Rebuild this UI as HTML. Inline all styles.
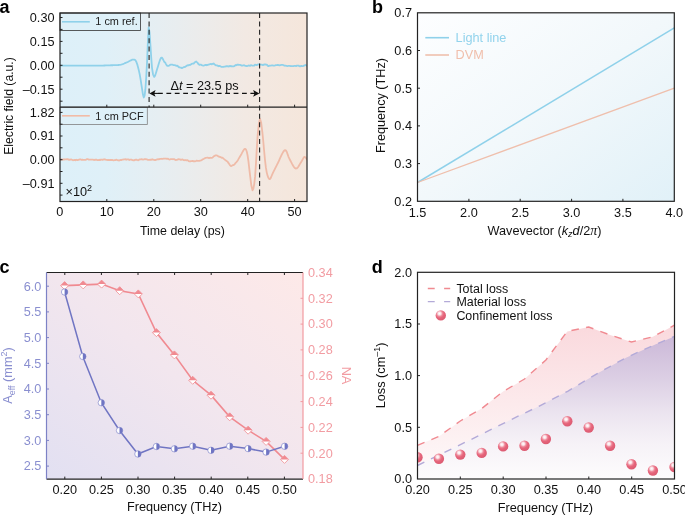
<!DOCTYPE html>
<html><head><meta charset="utf-8"><style>
html,body{margin:0;padding:0;background:#fff;width:685px;height:515px;overflow:hidden;}
svg{display:block;will-change:transform;}
</style></head><body>
<svg width="685" height="515" viewBox="0 0 685 515">
<rect width="685" height="515" fill="#fff"/>
<defs>
<linearGradient id="ga" x1="0" y1="0" x2="1" y2="0"><stop offset="0" stop-color="#ddf0f9"/><stop offset="0.18" stop-color="#dff0f8"/><stop offset="0.4" stop-color="#e6eef2"/><stop offset="0.55" stop-color="#ebecec"/><stop offset="0.75" stop-color="#f2e9e3"/><stop offset="1" stop-color="#f5e6db"/></linearGradient>
<linearGradient id="gb" x1="0" y1="0" x2="1" y2="1"><stop offset="0" stop-color="#fdfeff"/><stop offset="0.5" stop-color="#f2f8fb"/><stop offset="1" stop-color="#e1f1f8"/></linearGradient>
<linearGradient id="gc" x1="0" y1="1" x2="1" y2="0"><stop offset="0" stop-color="#e2e0f2"/><stop offset="0.5" stop-color="#f2e6ee"/><stop offset="1" stop-color="#fde9e8"/></linearGradient>
<linearGradient id="gdp" gradientUnits="userSpaceOnUse" x1="0" y1="325" x2="0" y2="479"><stop offset="0" stop-color="#fad9dd"/><stop offset="1" stop-color="#fefafa"/></linearGradient>
<linearGradient id="gdm" gradientUnits="userSpaceOnUse" x1="0" y1="336" x2="0" y2="479"><stop offset="0" stop-color="#cbb8d8"/><stop offset="0.3" stop-color="#dccfe4"/><stop offset="0.55" stop-color="#ece5f0"/><stop offset="0.75" stop-color="#f6f2f7"/><stop offset="1" stop-color="#fdfcfd"/></linearGradient>
<radialGradient id="sph" cx="0.38" cy="0.32" r="0.7"><stop offset="0" stop-color="#ffffff"/><stop offset="0.2" stop-color="#fbe3e7"/><stop offset="0.4" stop-color="#ee8a9b"/><stop offset="0.6" stop-color="#e6657b"/><stop offset="1" stop-color="#db5a71"/></radialGradient>
<clipPath id="cpa"><rect x="60" y="13" width="247" height="188.5"/></clipPath>
<clipPath id="cpd"><rect x="417.5" y="272.3" width="257" height="206.7"/></clipPath>
</defs>
<rect x="60.0" y="13.0" width="247.0" height="188.5" fill="url(#ga)"/>
<g clip-path="url(#cpa)" fill="none" stroke-linejoin="round" stroke-linecap="round">
<path d="M60.00,65.60 L60.43,65.60 L60.92,65.61 L61.47,65.61 L62.07,65.61 L62.72,65.62 L63.41,65.62 L64.15,65.63 L64.92,65.63 L65.73,65.64 L66.56,65.64 L67.42,65.65 L68.30,65.65 L69.20,65.66 L70.12,65.66 L71.04,65.67 L71.97,65.67 L72.90,65.68 L73.84,65.68 L74.76,65.69 L75.68,65.69 L76.58,65.69 L77.47,65.70 L78.34,65.70 L79.18,65.70 L80.00,65.70 L80.81,65.70 L81.63,65.70 L82.46,65.70 L83.31,65.70 L84.16,65.70 L85.02,65.69 L85.88,65.69 L86.75,65.69 L87.61,65.69 L88.48,65.68 L89.34,65.68 L90.20,65.68 L91.05,65.67 L91.89,65.67 L92.72,65.66 L93.54,65.66 L94.34,65.65 L95.13,65.65 L95.89,65.64 L96.64,65.64 L97.36,65.63 L98.06,65.62 L98.74,65.62 L99.38,65.61 L100.00,65.60 L101.18,65.58 L102.25,65.56 L103.21,65.54 L104.08,65.52 L104.88,65.50 L105.63,65.47 L106.35,65.45 L107.04,65.42 L107.74,65.39 L108.45,65.36 L109.20,65.33 L110.00,65.30 L110.84,65.27 L111.69,65.25 L112.56,65.23 L113.43,65.21 L114.30,65.20 L115.16,65.17 L116.01,65.15 L116.85,65.11 L117.66,65.06 L118.44,64.99 L119.19,64.91 L119.90,64.80 L120.88,64.60 L121.78,64.37 L122.62,64.10 L123.41,63.80 L124.17,63.49 L124.93,63.16 L125.70,62.83 L126.50,62.50 L127.35,62.13 L128.23,61.69 L129.12,61.22 L130.01,60.76 L130.87,60.33 L131.68,59.97 L132.43,59.71 L133.10,59.60 L134.16,59.59 L134.96,59.84 L135.65,60.57 L136.40,62.00 L137.25,64.34 L138.11,67.43 L138.94,70.90 L139.70,74.40 L140.59,79.40 L141.39,84.66 L142.10,89.20 L143.00,94.79 L143.80,97.50 L144.60,95.62 L145.40,89.20 L146.25,76.79 L147.10,61.20 L147.90,41.47 L148.70,27.40 L149.55,32.49 L150.40,44.70 L151.17,56.76 L152.00,67.80 L153.02,74.26 L154.20,76.90 L155.08,75.70 L156.03,72.66 L157.00,69.40 L158.03,66.15 L159.07,62.69 L160.00,60.00 L160.98,57.94 L161.90,57.60 L162.66,58.59 L163.49,60.33 L164.40,62.00 L165.17,62.51 L166.01,64.08 L166.86,65.57 L167.70,65.76 L168.45,65.80 L169.16,65.59 L169.94,64.96 L170.90,64.68 L171.68,64.63 L172.56,64.72 L173.51,65.09 L174.48,65.10 L175.46,65.30 L176.40,65.93 L177.30,65.75 L178.19,66.47 L179.08,67.28 L179.99,67.48 L180.92,67.57 L181.90,68.12 L182.69,67.70 L183.53,67.23 L184.40,67.01 L185.28,66.93 L186.15,66.08 L186.99,65.64 L187.78,65.25 L188.50,65.42 L189.52,64.90 L190.43,64.90 L191.26,64.09 L192.04,63.68 L192.80,63.62 L193.70,63.49 L194.51,62.70 L195.30,61.93 L196.10,61.53 L196.85,62.14 L197.54,62.67 L198.34,63.96 L199.40,64.87 L200.07,64.59 L200.82,64.59 L201.63,65.17 L202.49,65.36 L203.38,65.65 L204.27,65.37 L205.15,64.99 L206.00,64.92 L206.83,65.30 L207.68,64.88 L208.53,64.60 L209.38,64.40 L210.21,64.19 L211.03,63.99 L211.83,64.36 L212.60,63.83 L213.56,63.48 L214.44,64.35 L215.30,64.91 L216.16,65.47 L217.04,65.37 L218.00,65.93 L218.76,66.27 L219.54,65.89 L220.34,66.32 L221.16,66.76 L221.99,66.93 L222.84,66.95 L223.71,66.76 L224.60,66.71 L225.41,66.52 L226.26,66.20 L227.13,66.46 L228.01,66.23 L228.90,66.54 L229.78,65.86 L230.65,66.27 L231.49,66.22 L232.30,66.38 L233.15,66.38 L233.96,66.31 L234.72,65.88 L235.48,65.02 L236.25,65.23 L237.04,64.74 L237.89,64.59 L238.80,64.88 L239.60,64.94 L240.45,64.91 L241.34,65.49 L242.26,65.54 L243.19,65.37 L244.13,65.25 L245.05,65.84 L245.94,65.81 L246.80,66.11 L247.60,65.84 L248.52,65.49 L249.36,65.56 L250.14,65.80 L250.91,65.22 L251.67,65.44 L252.45,65.62 L253.29,65.57 L254.20,65.54 L254.99,64.73 L255.84,64.88 L256.72,65.19 L257.63,64.56 L258.55,64.43 L259.47,64.37 L260.38,64.60 L261.26,64.64 L262.11,64.73 L262.90,65.10 L263.80,64.60 L264.60,64.44 L265.34,64.51 L266.06,64.61 L266.80,64.67 L267.60,65.65 L268.48,66.10 L269.50,65.58 L270.20,65.69 L270.94,65.54 L271.72,65.44 L272.53,65.39 L273.37,65.62 L274.24,65.66 L275.12,65.43 L276.00,65.11 L276.90,65.04 L277.79,64.79 L278.67,65.06 L279.55,65.37 L280.40,65.22 L281.25,64.86 L282.11,64.78 L282.98,64.96 L283.85,65.32 L284.73,65.73 L285.60,65.59 L286.47,65.96 L287.33,66.03 L288.18,65.90 L289.02,65.80 L289.83,65.88 L290.63,66.15 L291.40,66.02 L292.38,66.22 L293.34,66.09 L294.28,65.80 L295.20,65.92 L296.09,66.12 L296.96,65.60 L297.80,65.65 L298.60,65.66 L299.37,66.09 L300.10,66.37 L301.25,65.92 L302.32,66.13 L303.31,66.09 L304.19,65.50 L304.96,65.35 L305.60,64.93 L306.64,65.48 L307.00,65.72" stroke="#8fd1ea" stroke-width="1.8"/>
<path d="M60.00,159.64 L60.43,159.40 L60.92,159.72 L61.47,159.38 L62.07,159.61 L62.72,159.58 L63.41,159.30 L64.15,159.55 L64.92,159.26 L65.73,159.47 L66.56,159.25 L67.42,159.16 L68.30,159.41 L69.20,159.91 L70.12,159.56 L71.04,159.46 L71.97,159.77 L72.90,160.23 L73.84,160.15 L74.76,159.94 L75.68,160.35 L76.58,159.74 L77.47,160.14 L78.34,159.84 L79.18,159.55 L80.00,159.36 L80.80,159.43 L81.60,159.92 L82.40,159.61 L83.20,159.80 L84.00,159.96 L84.80,159.79 L85.60,159.86 L86.40,159.45 L87.20,159.22 L88.00,159.22 L88.80,159.64 L89.60,159.64 L90.40,159.53 L91.20,159.71 L92.00,159.69 L92.80,159.53 L93.60,159.89 L94.40,159.99 L95.20,159.64 L96.00,159.74 L96.80,159.75 L97.60,160.06 L98.40,160.11 L99.20,159.73 L100.00,160.15 L100.80,159.60 L101.60,159.58 L102.40,159.87 L103.20,159.49 L104.00,159.59 L104.80,159.24 L105.60,159.62 L106.40,159.92 L107.20,159.92 L108.00,160.20 L108.80,159.85 L109.60,160.01 L110.40,160.01 L111.20,160.00 L112.00,159.89 L112.80,160.18 L113.60,160.44 L114.40,160.16 L115.20,160.18 L116.00,159.66 L116.80,159.94 L117.60,160.06 L118.40,160.43 L119.20,160.48 L120.00,160.03 L120.80,159.87 L121.59,160.03 L122.37,159.54 L123.15,159.66 L123.93,159.46 L124.71,159.30 L125.48,159.16 L126.25,159.72 L127.03,159.44 L127.80,159.40 L128.57,159.50 L129.35,159.98 L130.13,159.53 L130.91,159.61 L131.70,159.74 L132.49,160.10 L133.29,160.24 L134.10,160.35 L134.91,159.88 L135.73,159.74 L136.56,159.61 L137.40,160.00 L138.26,160.28 L139.12,159.70 L140.00,159.41 L140.74,159.29 L141.51,159.22 L142.28,159.40 L143.07,159.59 L143.87,159.40 L144.68,159.05 L145.50,159.23 L146.33,159.27 L147.17,159.47 L148.01,159.92 L148.85,159.92 L149.70,159.76 L150.56,159.76 L151.41,159.80 L152.26,159.26 L153.11,159.72 L153.96,159.85 L154.81,160.01 L155.65,160.02 L156.48,159.66 L157.31,159.46 L158.12,159.08 L158.93,159.35 L159.73,158.98 L160.51,158.78 L161.28,158.79 L162.04,158.76 L162.78,158.90 L163.50,158.72 L164.20,158.58 L165.18,158.64 L166.14,158.63 L167.09,158.87 L168.01,158.70 L168.92,159.38 L169.81,159.53 L170.69,159.20 L171.55,159.12 L172.40,159.17 L173.23,159.23 L174.04,159.05 L174.85,159.62 L175.64,160.08 L176.42,159.87 L177.19,159.78 L177.95,159.40 L178.70,159.21 L179.44,159.35 L180.17,159.37 L180.89,159.91 L181.60,159.62 L182.58,159.39 L183.52,160.15 L184.44,160.24 L185.33,160.01 L186.20,160.29 L187.04,160.05 L187.86,160.42 L188.67,161.08 L189.46,161.39 L190.24,161.45 L191.00,161.12 L191.76,161.05 L192.51,160.84 L193.26,161.26 L194.00,161.26 L194.92,161.41 L195.84,161.02 L196.74,160.61 L197.63,160.81 L198.49,160.96 L199.34,160.81 L200.17,160.58 L200.97,160.35 L201.75,160.05 L202.50,159.33 L203.22,159.12 L203.90,158.80 L204.97,158.19 L205.91,157.78 L206.75,157.72 L207.55,157.61 L208.33,157.86 L209.14,158.15 L210.00,157.74 L210.80,157.84 L211.62,157.79 L212.44,157.58 L213.28,156.79 L214.11,156.12 L214.95,155.68 L215.78,155.40 L216.60,155.30 L217.43,155.72 L218.28,156.33 L219.14,156.76 L219.99,156.85 L220.82,157.23 L221.62,157.76 L222.39,157.58 L223.10,158.16 L224.13,159.12 L225.05,159.87 L225.91,160.59 L226.71,161.10 L227.50,161.45 L228.40,162.91 L229.20,163.96 L230.03,165.34 L231.00,166.16 L231.78,165.74 L232.64,165.23 L233.54,165.10 L234.46,164.44 L235.36,163.23 L236.20,162.40 L237.13,161.25 L238.02,159.90 L238.88,158.42 L239.73,156.93 L240.60,155.50 L241.51,153.93 L242.45,152.16 L243.37,150.51 L244.24,149.28 L245.00,148.80 L246.00,149.51 L246.80,151.72 L247.60,155.50 L248.48,161.67 L249.36,169.42 L250.20,176.40 L251.35,185.58 L252.50,190.40 L253.35,188.78 L254.23,184.04 L255.10,176.40 L255.94,164.10 L256.78,148.89 L257.60,136.20 L258.81,124.06 L260.00,118.70 L261.13,122.42 L262.40,132.70 L263.20,140.53 L264.08,150.36 L265.00,160.12 L265.90,167.70 L266.77,172.62 L267.65,175.97 L268.52,178.04 L269.40,179.10 L270.25,178.85 L271.09,177.26 L271.96,175.04 L272.90,172.90 L273.67,171.40 L274.45,169.85 L275.27,168.18 L276.21,166.32 L277.30,164.20 L278.01,162.75 L278.81,161.01 L279.67,159.08 L280.57,157.09 L281.49,155.15 L282.39,153.37 L283.26,151.88 L284.07,150.78 L284.80,150.20 L285.90,150.49 L286.81,152.04 L287.65,154.33 L288.51,156.82 L289.50,159.00 L290.32,160.47 L291.19,162.15 L292.10,163.89 L293.03,165.55 L293.96,166.99 L294.85,168.05 L295.70,168.60 L296.64,168.47 L297.57,167.68 L298.47,166.44 L299.33,165.00 L300.14,163.58 L300.90,162.40 L301.92,160.79 L302.81,159.10 L303.63,157.69 L304.40,156.90 L305.43,157.26 L306.36,158.53 L307.00,159.50" stroke="#efbba8" stroke-width="1.8"/>
</g>
<g stroke="#222" stroke-width="1.1" stroke-dasharray="5,3.4">
<line x1="149.1" y1="13" x2="149.1" y2="107.2"/>
<line x1="259.6" y1="13" x2="259.6" y2="201.5"/>
</g>
<line x1="153" y1="93.4" x2="255" y2="93.4" stroke="#111" stroke-width="1.1" stroke-dasharray="4.8,3.6" stroke-dashoffset="-5"/>
<path d="M149.4,93.4 L155.6,90.1 L154.2,93.4 L155.6,96.7 Z" fill="#111"/><line x1="153" y1="93.4" x2="158" y2="93.4" stroke="#111" stroke-width="1.1"/>
<path d="M259.4,93.4 L253.1,90.1 L254.5,93.4 L253.1,96.7 Z" fill="#111"/>
<text x="170.5" y="89.6" font-size="12.7" font-family='"Liberation Sans", sans-serif' fill="#111">&#916;<tspan font-style="italic">t</tspan> = 23.5 ps</text>
<rect x="60" y="13" width="80.5" height="17.4" fill="#def0f8" stroke="#333" stroke-width="0.8"/>
<line x1="62" y1="21.8" x2="89.8" y2="21.8" stroke="#8fd1ea" stroke-width="1.6"/>
<text x="95.3" y="25" font-size="10.9" font-family='"Liberation Sans", sans-serif' fill="#222">1 cm ref.</text>
<rect x="60" y="107.2" width="87.3" height="17.3" fill="#def0f8" stroke="#808080" stroke-width="0.8"/>
<line x1="62" y1="115.8" x2="89.8" y2="115.8" stroke="#f2bba6" stroke-width="1.6"/>
<text x="95.2" y="119.7" font-size="10.9" font-family='"Liberation Sans", sans-serif' fill="#222">1 cm PCF</text>
<rect x="60" y="13" width="247" height="188.5" fill="none" stroke="#222" stroke-width="1.2"/>
<line x1="60" y1="107.2" x2="307" y2="107.2" stroke="#222" stroke-width="1.2"/>
<path d="M106.8,201.5 v-2.5 M106.8,107.2 v-2.5 M153.8,201.5 v-2.5 M153.8,107.2 v-2.5 M200.7,201.5 v-2.5 M200.7,107.2 v-2.5 M247.7,201.5 v-2.5 M247.7,107.2 v-2.5 M294.6,201.5 v-2.5 M294.6,107.2 v-2.5 M60,17.5 h2.5 M60,29.4 h2.5 M60,41.4 h2.5 M60,53.3 h2.5 M60,65.3 h2.5 M60,77.2 h2.5 M60,89.2 h2.5 M60,101.2 h2.5 M60,112.4 h2.5 M60,124.2 h2.5 M60,136.0 h2.5 M60,147.8 h2.5 M60,159.7 h2.5 M60,171.5 h2.5 M60,183.3 h2.5 M60,195.1 h2.5" stroke="#222" stroke-width="1"/>
<text x="54.5" y="21.8" font-size="12.7" text-anchor="end" font-family='"Liberation Sans", sans-serif' fill="#111" >0.30</text>
<text x="54.5" y="45.7" font-size="12.7" text-anchor="end" font-family='"Liberation Sans", sans-serif' fill="#111" >0.15</text>
<text x="54.5" y="69.6" font-size="12.7" text-anchor="end" font-family='"Liberation Sans", sans-serif' fill="#111" >0.00</text>
<text x="54.5" y="93.5" font-size="12.7" text-anchor="end" font-family='"Liberation Sans", sans-serif' fill="#111" >&#8211;0.15</text>
<text x="54.5" y="116.7" font-size="12.7" text-anchor="end" font-family='"Liberation Sans", sans-serif' fill="#111" >1.82</text>
<text x="54.5" y="140.3" font-size="12.7" text-anchor="end" font-family='"Liberation Sans", sans-serif' fill="#111" >0.91</text>
<text x="54.5" y="164.0" font-size="12.7" text-anchor="end" font-family='"Liberation Sans", sans-serif' fill="#111" >0.00</text>
<text x="54.5" y="187.6" font-size="12.7" text-anchor="end" font-family='"Liberation Sans", sans-serif' fill="#111" >&#8211;0.91</text>
<text x="59.9" y="216.3" font-size="12.7" text-anchor="middle" font-family='"Liberation Sans", sans-serif' fill="#111" >0</text>
<text x="106.8" y="216.3" font-size="12.7" text-anchor="middle" font-family='"Liberation Sans", sans-serif' fill="#111" >10</text>
<text x="153.8" y="216.3" font-size="12.7" text-anchor="middle" font-family='"Liberation Sans", sans-serif' fill="#111" >20</text>
<text x="200.7" y="216.3" font-size="12.7" text-anchor="middle" font-family='"Liberation Sans", sans-serif' fill="#111" >30</text>
<text x="247.7" y="216.3" font-size="12.7" text-anchor="middle" font-family='"Liberation Sans", sans-serif' fill="#111" >40</text>
<text x="294.6" y="216.3" font-size="12.7" text-anchor="middle" font-family='"Liberation Sans", sans-serif' fill="#111" >50</text>
<text x="182.4" y="234.6" font-size="12.4" text-anchor="middle" font-family='"Liberation Sans", sans-serif' fill="#111" >Time delay (ps)</text>
<text x="12.6" y="106.0" font-size="12.2" text-anchor="middle" font-family='"Liberation Sans", sans-serif' fill="#111" transform="rotate(-90 12.6 106)">Electric field (a.u.)</text>
<text x="65.5" y="196" font-size="12.7" font-family='"Liberation Sans", sans-serif' fill="#111">&#215;10<tspan font-size="9" dy="-5.5">2</tspan></text>
<text x="-0.5" y="13.2" font-size="18" font-weight="bold" font-family='"Liberation Sans", sans-serif' fill="#000">a</text>
<rect x="417.5" y="12.8" width="256.8" height="188.5" fill="url(#gb)"/>
<line x1="417.5" y1="182.5" x2="674.3" y2="27.9" stroke="#8fd1ea" stroke-width="1.5"/>
<line x1="417.5" y1="182.5" x2="674.3" y2="88.2" stroke="#efbfac" stroke-width="1.3"/>
<line x1="425.3" y1="37.7" x2="449" y2="37.7" stroke="#8fd1ea" stroke-width="1.6"/>
<line x1="425.3" y1="55" x2="449" y2="55" stroke="#efbfac" stroke-width="1.6"/>
<text x="455.6" y="42.0" font-size="12.7" text-anchor="start" font-family='"Liberation Sans", sans-serif' fill="#92d3ec" >Light line</text>
<text x="455.6" y="59.3" font-size="12.7" text-anchor="start" font-family='"Liberation Sans", sans-serif' fill="#f0bfac" >DVM</text>
<rect x="417.5" y="12.8" width="256.8" height="188.5" fill="none" stroke="#222" stroke-width="1.2"/>
<path d="M468.9,201.3 v-2.5 M520.2,201.3 v-2.5 M571.6,201.3 v-2.5 M622.9,201.3 v-2.5 M417.5,163.6 h2.5 M417.5,125.9 h2.5 M417.5,88.2 h2.5 M417.5,50.5 h2.5" stroke="#222" stroke-width="1"/>
<text x="412.0" y="205.6" font-size="12.7" text-anchor="end" font-family='"Liberation Sans", sans-serif' fill="#111" >0.2</text>
<text x="412.0" y="167.9" font-size="12.7" text-anchor="end" font-family='"Liberation Sans", sans-serif' fill="#111" >0.3</text>
<text x="412.0" y="130.2" font-size="12.7" text-anchor="end" font-family='"Liberation Sans", sans-serif' fill="#111" >0.4</text>
<text x="412.0" y="92.5" font-size="12.7" text-anchor="end" font-family='"Liberation Sans", sans-serif' fill="#111" >0.5</text>
<text x="412.0" y="54.8" font-size="12.7" text-anchor="end" font-family='"Liberation Sans", sans-serif' fill="#111" >0.6</text>
<text x="412.0" y="17.1" font-size="12.7" text-anchor="end" font-family='"Liberation Sans", sans-serif' fill="#111" >0.7</text>
<text x="417.5" y="216.6" font-size="12.7" text-anchor="middle" font-family='"Liberation Sans", sans-serif' fill="#111" >1.5</text>
<text x="468.9" y="216.6" font-size="12.7" text-anchor="middle" font-family='"Liberation Sans", sans-serif' fill="#111" >2.0</text>
<text x="520.2" y="216.6" font-size="12.7" text-anchor="middle" font-family='"Liberation Sans", sans-serif' fill="#111" >2.5</text>
<text x="571.6" y="216.6" font-size="12.7" text-anchor="middle" font-family='"Liberation Sans", sans-serif' fill="#111" >3.0</text>
<text x="622.9" y="216.6" font-size="12.7" text-anchor="middle" font-family='"Liberation Sans", sans-serif' fill="#111" >3.5</text>
<text x="674.3" y="216.6" font-size="12.7" text-anchor="middle" font-family='"Liberation Sans", sans-serif' fill="#111" >4.0</text>
<text x="544.5" y="234.7" font-size="12.7" text-anchor="middle" font-family='"Liberation Sans", sans-serif' fill="#111">Wavevector (<tspan font-style="italic">k</tspan><tspan font-style="italic" font-size="9" dy="2.5">z</tspan><tspan font-style="italic" dy="-2.5">d</tspan>/2<tspan font-family="Liberation Serif" font-style="italic" font-size="14">&#960;</tspan>)</text>
<text x="385.0" y="105.5" font-size="12.7" text-anchor="middle" font-family='"Liberation Sans", sans-serif' fill="#111" transform="rotate(-90 385 105.5)">Frequency (THz)</text>
<text x="372" y="13.2" font-size="18" font-weight="bold" font-family='"Liberation Sans", sans-serif' fill="#000">b</text>
<rect x="46.5" y="272.5" width="256.5" height="206.6" fill="url(#gc)"/>
<path d="M64.60,285.60 L83.20,284.90 L101.60,284.10 L119.70,290.70 L138.30,293.90 L156.40,332.60 L174.40,354.90 L192.70,380.30 L211.00,395.20 L229.70,416.80 L248.10,430.20 L266.10,441.40 L284.50,459.40" fill="none" stroke="#f08a91" stroke-width="1.6"/>
<path d="M64.60,292.00 L82.80,356.50 L101.30,402.70 L119.50,430.50 L137.90,454.00 L156.40,446.50 L174.40,448.80 L192.70,446.20 L211.00,450.30 L229.70,446.20 L248.10,448.60 L266.10,452.10 L284.60,446.30" fill="none" stroke="#7075c3" stroke-width="1.5"/>
<path d="M64.6,281.6 L68.6,285.6 L64.6,289.6 L60.6,285.6 Z" fill="#fff" stroke="#f08a91" stroke-width="0.8"/>
<path d="M64.6,281.6 L68.6,285.6 L60.6,285.6 Z" fill="#f08a91"/>
<path d="M83.2,280.9 L87.2,284.9 L83.2,288.9 L79.2,284.9 Z" fill="#fff" stroke="#f08a91" stroke-width="0.8"/>
<path d="M83.2,280.9 L87.2,284.9 L79.2,284.9 Z" fill="#f08a91"/>
<path d="M101.6,280.1 L105.6,284.1 L101.6,288.1 L97.6,284.1 Z" fill="#fff" stroke="#f08a91" stroke-width="0.8"/>
<path d="M101.6,280.1 L105.6,284.1 L97.6,284.1 Z" fill="#f08a91"/>
<path d="M119.7,286.7 L123.7,290.7 L119.7,294.7 L115.7,290.7 Z" fill="#fff" stroke="#f08a91" stroke-width="0.8"/>
<path d="M119.7,286.7 L123.7,290.7 L115.7,290.7 Z" fill="#f08a91"/>
<path d="M138.3,289.9 L142.3,293.9 L138.3,297.9 L134.3,293.9 Z" fill="#fff" stroke="#f08a91" stroke-width="0.8"/>
<path d="M138.3,289.9 L142.3,293.9 L134.3,293.9 Z" fill="#f08a91"/>
<path d="M156.4,328.6 L160.4,332.6 L156.4,336.6 L152.4,332.6 Z" fill="#fff" stroke="#f08a91" stroke-width="0.8"/>
<path d="M156.4,328.6 L160.4,332.6 L152.4,332.6 Z" fill="#f08a91"/>
<path d="M174.4,350.9 L178.4,354.9 L174.4,358.9 L170.4,354.9 Z" fill="#fff" stroke="#f08a91" stroke-width="0.8"/>
<path d="M174.4,350.9 L178.4,354.9 L170.4,354.9 Z" fill="#f08a91"/>
<path d="M192.7,376.3 L196.7,380.3 L192.7,384.3 L188.7,380.3 Z" fill="#fff" stroke="#f08a91" stroke-width="0.8"/>
<path d="M192.7,376.3 L196.7,380.3 L188.7,380.3 Z" fill="#f08a91"/>
<path d="M211.0,391.2 L215.0,395.2 L211.0,399.2 L207.0,395.2 Z" fill="#fff" stroke="#f08a91" stroke-width="0.8"/>
<path d="M211.0,391.2 L215.0,395.2 L207.0,395.2 Z" fill="#f08a91"/>
<path d="M229.7,412.8 L233.7,416.8 L229.7,420.8 L225.7,416.8 Z" fill="#fff" stroke="#f08a91" stroke-width="0.8"/>
<path d="M229.7,412.8 L233.7,416.8 L225.7,416.8 Z" fill="#f08a91"/>
<path d="M248.1,426.2 L252.1,430.2 L248.1,434.2 L244.1,430.2 Z" fill="#fff" stroke="#f08a91" stroke-width="0.8"/>
<path d="M248.1,426.2 L252.1,430.2 L244.1,430.2 Z" fill="#f08a91"/>
<path d="M266.1,437.4 L270.1,441.4 L266.1,445.4 L262.1,441.4 Z" fill="#fff" stroke="#f08a91" stroke-width="0.8"/>
<path d="M266.1,437.4 L270.1,441.4 L262.1,441.4 Z" fill="#f08a91"/>
<path d="M284.5,455.4 L288.5,459.4 L284.5,463.4 L280.5,459.4 Z" fill="#fff" stroke="#f08a91" stroke-width="0.8"/>
<path d="M284.5,455.4 L288.5,459.4 L280.5,459.4 Z" fill="#f08a91"/>
<circle cx="64.6" cy="292.0" r="3.2" fill="#fff" stroke="#7075c3" stroke-width="0.6"/>
<path d="M64.6,288.8 A3.2,3.2 0 0 1 64.6,295.2 Z" fill="#7075c3"/>
<circle cx="82.8" cy="356.5" r="3.2" fill="#fff" stroke="#7075c3" stroke-width="0.6"/>
<path d="M82.8,353.3 A3.2,3.2 0 0 1 82.8,359.7 Z" fill="#7075c3"/>
<circle cx="101.3" cy="402.7" r="3.2" fill="#fff" stroke="#7075c3" stroke-width="0.6"/>
<path d="M101.3,399.5 A3.2,3.2 0 0 1 101.3,405.9 Z" fill="#7075c3"/>
<circle cx="119.5" cy="430.5" r="3.2" fill="#fff" stroke="#7075c3" stroke-width="0.6"/>
<path d="M119.5,427.3 A3.2,3.2 0 0 1 119.5,433.7 Z" fill="#7075c3"/>
<circle cx="137.9" cy="454.0" r="3.2" fill="#fff" stroke="#7075c3" stroke-width="0.6"/>
<path d="M137.9,450.8 A3.2,3.2 0 0 1 137.9,457.2 Z" fill="#7075c3"/>
<circle cx="156.4" cy="446.5" r="3.2" fill="#fff" stroke="#7075c3" stroke-width="0.6"/>
<path d="M156.4,443.3 A3.2,3.2 0 0 1 156.4,449.7 Z" fill="#7075c3"/>
<circle cx="174.4" cy="448.8" r="3.2" fill="#fff" stroke="#7075c3" stroke-width="0.6"/>
<path d="M174.4,445.6 A3.2,3.2 0 0 1 174.4,452.0 Z" fill="#7075c3"/>
<circle cx="192.7" cy="446.2" r="3.2" fill="#fff" stroke="#7075c3" stroke-width="0.6"/>
<path d="M192.7,443.0 A3.2,3.2 0 0 1 192.7,449.4 Z" fill="#7075c3"/>
<circle cx="211.0" cy="450.3" r="3.2" fill="#fff" stroke="#7075c3" stroke-width="0.6"/>
<path d="M211.0,447.1 A3.2,3.2 0 0 1 211.0,453.5 Z" fill="#7075c3"/>
<circle cx="229.7" cy="446.2" r="3.2" fill="#fff" stroke="#7075c3" stroke-width="0.6"/>
<path d="M229.7,443.0 A3.2,3.2 0 0 1 229.7,449.4 Z" fill="#7075c3"/>
<circle cx="248.1" cy="448.6" r="3.2" fill="#fff" stroke="#7075c3" stroke-width="0.6"/>
<path d="M248.1,445.4 A3.2,3.2 0 0 1 248.1,451.8 Z" fill="#7075c3"/>
<circle cx="266.1" cy="452.1" r="3.2" fill="#fff" stroke="#7075c3" stroke-width="0.6"/>
<path d="M266.1,448.9 A3.2,3.2 0 0 1 266.1,455.3 Z" fill="#7075c3"/>
<circle cx="284.6" cy="446.3" r="3.2" fill="#fff" stroke="#7075c3" stroke-width="0.6"/>
<path d="M284.6,443.1 A3.2,3.2 0 0 1 284.6,449.5 Z" fill="#7075c3"/>
<line x1="46.5" y1="272.5" x2="303.0" y2="272.5" stroke="#222" stroke-width="1.2"/>
<line x1="46.5" y1="479.1" x2="303.0" y2="479.1" stroke="#222" stroke-width="1.2"/>
<line x1="46.5" y1="272.5" x2="46.5" y2="479.1" stroke="#7d82c6" stroke-width="1.2"/>
<line x1="303.0" y1="272.5" x2="303.0" y2="479.1" stroke="#f29aa0" stroke-width="1.2"/>
<path d="M64.8,479.1 v-2.5 M64.8,272.5 v2.5 M101.4,479.1 v-2.5 M101.4,272.5 v2.5 M138.0,479.1 v-2.5 M138.0,272.5 v2.5 M174.6,479.1 v-2.5 M174.6,272.5 v2.5 M211.2,479.1 v-2.5 M211.2,272.5 v2.5 M247.8,479.1 v-2.5 M247.8,272.5 v2.5 M284.4,479.1 v-2.5 M284.4,272.5 v2.5" stroke="#222" stroke-width="1"/>
<path d="M46.5,466.1 h2.5 M46.5,440.4 h2.5 M46.5,414.7 h2.5 M46.5,389.0 h2.5 M46.5,363.3 h2.5 M46.5,337.6 h2.5 M46.5,311.9 h2.5 M46.5,286.2 h2.5" stroke="#7d82c6" stroke-width="1"/>
<path d="M303.0,453.2 h-2.5 M303.0,427.4 h-2.5 M303.0,401.6 h-2.5 M303.0,375.7 h-2.5 M303.0,349.9 h-2.5 M303.0,324.1 h-2.5 M303.0,298.3 h-2.5" stroke="#f29aa0" stroke-width="1"/>
<text x="41.3" y="470.4" font-size="12.7" text-anchor="end" font-family='"Liberation Sans", sans-serif' fill="#8a8fd0" >2.5</text>
<text x="41.3" y="444.7" font-size="12.7" text-anchor="end" font-family='"Liberation Sans", sans-serif' fill="#8a8fd0" >3.0</text>
<text x="41.3" y="419.0" font-size="12.7" text-anchor="end" font-family='"Liberation Sans", sans-serif' fill="#8a8fd0" >3.5</text>
<text x="41.3" y="393.3" font-size="12.7" text-anchor="end" font-family='"Liberation Sans", sans-serif' fill="#8a8fd0" >4.0</text>
<text x="41.3" y="367.6" font-size="12.7" text-anchor="end" font-family='"Liberation Sans", sans-serif' fill="#8a8fd0" >4.5</text>
<text x="41.3" y="341.9" font-size="12.7" text-anchor="end" font-family='"Liberation Sans", sans-serif' fill="#8a8fd0" >5.0</text>
<text x="41.3" y="316.2" font-size="12.7" text-anchor="end" font-family='"Liberation Sans", sans-serif' fill="#8a8fd0" >5.5</text>
<text x="41.3" y="290.5" font-size="12.7" text-anchor="end" font-family='"Liberation Sans", sans-serif' fill="#8a8fd0" >6.0</text>
<text x="308.0" y="483.3" font-size="12.7" text-anchor="start" font-family='"Liberation Sans", sans-serif' fill="#f29ca2" >0.18</text>
<text x="308.0" y="457.5" font-size="12.7" text-anchor="start" font-family='"Liberation Sans", sans-serif' fill="#f29ca2" >0.20</text>
<text x="308.0" y="431.7" font-size="12.7" text-anchor="start" font-family='"Liberation Sans", sans-serif' fill="#f29ca2" >0.22</text>
<text x="308.0" y="405.9" font-size="12.7" text-anchor="start" font-family='"Liberation Sans", sans-serif' fill="#f29ca2" >0.24</text>
<text x="308.0" y="380.0" font-size="12.7" text-anchor="start" font-family='"Liberation Sans", sans-serif' fill="#f29ca2" >0.26</text>
<text x="308.0" y="354.2" font-size="12.7" text-anchor="start" font-family='"Liberation Sans", sans-serif' fill="#f29ca2" >0.28</text>
<text x="308.0" y="328.4" font-size="12.7" text-anchor="start" font-family='"Liberation Sans", sans-serif' fill="#f29ca2" >0.30</text>
<text x="308.0" y="302.6" font-size="12.7" text-anchor="start" font-family='"Liberation Sans", sans-serif' fill="#f29ca2" >0.32</text>
<text x="308.0" y="276.8" font-size="12.7" text-anchor="start" font-family='"Liberation Sans", sans-serif' fill="#f29ca2" >0.34</text>
<text x="64.8" y="494.0" font-size="12.7" text-anchor="middle" font-family='"Liberation Sans", sans-serif' fill="#111" >0.20</text>
<text x="101.4" y="494.0" font-size="12.7" text-anchor="middle" font-family='"Liberation Sans", sans-serif' fill="#111" >0.25</text>
<text x="138.0" y="494.0" font-size="12.7" text-anchor="middle" font-family='"Liberation Sans", sans-serif' fill="#111" >0.30</text>
<text x="174.6" y="494.0" font-size="12.7" text-anchor="middle" font-family='"Liberation Sans", sans-serif' fill="#111" >0.35</text>
<text x="211.2" y="494.0" font-size="12.7" text-anchor="middle" font-family='"Liberation Sans", sans-serif' fill="#111" >0.40</text>
<text x="247.8" y="494.0" font-size="12.7" text-anchor="middle" font-family='"Liberation Sans", sans-serif' fill="#111" >0.45</text>
<text x="284.4" y="494.0" font-size="12.7" text-anchor="middle" font-family='"Liberation Sans", sans-serif' fill="#111" >0.50</text>
<text x="174.5" y="511.2" font-size="12.7" text-anchor="middle" font-family='"Liberation Sans", sans-serif' fill="#111" >Frequency (THz)</text>
<text x="12.3" y="375.5" font-size="12.7" text-anchor="middle" font-family='"Liberation Sans", sans-serif' fill="#8a8fd0" transform="rotate(-90 12.3 375.5)">A<tspan font-size="9" dy="2.5">eff</tspan><tspan dy="-2.5"> (mm</tspan><tspan font-size="9" dy="-5">2</tspan><tspan dy="5">)</tspan></text>
<text x="341.5" y="375.5" font-size="12.7" text-anchor="middle" font-family='"Liberation Sans", sans-serif' fill="#f29ca2" transform="rotate(90 341.5 375.5)">NA</text>
<text x="-0.5" y="273.2" font-size="18" font-weight="bold" font-family='"Liberation Sans", sans-serif' fill="#000">c</text>
<g clip-path="url(#cpd)">
<path d="M417.50,445.30 L438.90,436.40 L460.30,421.00 L481.70,408.50 L503.10,391.50 L524.50,379.00 L545.90,360.00 L567.30,331.40 L588.70,327.00 L610.10,335.00 L631.50,342.00 L652.90,336.80 L674.50,325.20 L674.5,479 L417.5,479 Z" fill="url(#gdp)"/>
<path d="M417.50,465.50 L480.00,435.10 L509.20,420.50 L538.40,406.50 L567.60,391.30 L596.80,373.80 L626.00,357.70 L655.20,344.60 L674.50,336.40 L674.5,479 L417.5,479 Z" fill="url(#gdm)"/>
<path d="M417.50,445.30 L438.90,436.40 L460.30,421.00 L481.70,408.50 L503.10,391.50 L524.50,379.00 L545.90,360.00 L567.30,331.40 L588.70,327.00 L610.10,335.00 L631.50,342.00 L652.90,336.80 L674.50,325.20" fill="none" stroke="#f08a91" stroke-width="1.4" stroke-dasharray="7.6,7.4"/>
<path d="M417.50,465.50 L480.00,435.10 L509.20,420.50 L538.40,406.50 L567.60,391.30 L596.80,373.80 L626.00,357.70 L655.20,344.60 L674.50,336.40" fill="none" stroke="#b3aad8" stroke-width="1.4" stroke-dasharray="7.6,7.4"/>
<circle cx="417.5" cy="457.2" r="5.2" fill="url(#sph)"/>
<circle cx="438.9" cy="458.8" r="5.2" fill="url(#sph)"/>
<circle cx="460.3" cy="454.6" r="5.2" fill="url(#sph)"/>
<circle cx="481.7" cy="452.9" r="5.2" fill="url(#sph)"/>
<circle cx="503.1" cy="446.4" r="5.2" fill="url(#sph)"/>
<circle cx="524.5" cy="445.7" r="5.2" fill="url(#sph)"/>
<circle cx="545.9" cy="439.0" r="5.2" fill="url(#sph)"/>
<circle cx="567.3" cy="421.2" r="5.2" fill="url(#sph)"/>
<circle cx="588.7" cy="427.5" r="5.2" fill="url(#sph)"/>
<circle cx="610.1" cy="445.7" r="5.2" fill="url(#sph)"/>
<circle cx="631.5" cy="464.2" r="5.2" fill="url(#sph)"/>
<circle cx="652.9" cy="470.5" r="5.2" fill="url(#sph)"/>
<circle cx="674.5" cy="467.0" r="5.2" fill="url(#sph)"/>
</g>
<rect x="417.5" y="272.3" width="257.0" height="206.7" fill="none" stroke="#222" stroke-width="1.2"/>
<path d="M460.3,479.0 v-2.5 M503.2,479.0 v-2.5 M546.0,479.0 v-2.5 M588.8,479.0 v-2.5 M631.7,479.0 v-2.5 M417.5,427.3 h2.5 M417.5,375.6 h2.5 M417.5,324.0 h2.5" stroke="#222" stroke-width="1"/>
<text x="412.0" y="483.3" font-size="12.7" text-anchor="end" font-family='"Liberation Sans", sans-serif' fill="#111" >0.0</text>
<text x="412.0" y="431.6" font-size="12.7" text-anchor="end" font-family='"Liberation Sans", sans-serif' fill="#111" >0.5</text>
<text x="412.0" y="379.9" font-size="12.7" text-anchor="end" font-family='"Liberation Sans", sans-serif' fill="#111" >1.0</text>
<text x="412.0" y="328.3" font-size="12.7" text-anchor="end" font-family='"Liberation Sans", sans-serif' fill="#111" >1.5</text>
<text x="412.0" y="276.6" font-size="12.7" text-anchor="end" font-family='"Liberation Sans", sans-serif' fill="#111" >2.0</text>
<text x="417.5" y="493.6" font-size="12.7" text-anchor="middle" font-family='"Liberation Sans", sans-serif' fill="#111" >0.20</text>
<text x="460.3" y="493.6" font-size="12.7" text-anchor="middle" font-family='"Liberation Sans", sans-serif' fill="#111" >0.25</text>
<text x="503.2" y="493.6" font-size="12.7" text-anchor="middle" font-family='"Liberation Sans", sans-serif' fill="#111" >0.30</text>
<text x="546.0" y="493.6" font-size="12.7" text-anchor="middle" font-family='"Liberation Sans", sans-serif' fill="#111" >0.35</text>
<text x="588.8" y="493.6" font-size="12.7" text-anchor="middle" font-family='"Liberation Sans", sans-serif' fill="#111" >0.40</text>
<text x="631.7" y="493.6" font-size="12.7" text-anchor="middle" font-family='"Liberation Sans", sans-serif' fill="#111" >0.45</text>
<text x="674.5" y="493.6" font-size="12.7" text-anchor="middle" font-family='"Liberation Sans", sans-serif' fill="#111" >0.50</text>
<text x="545.4" y="511.7" font-size="12.7" text-anchor="middle" font-family='"Liberation Sans", sans-serif' fill="#111" >Frequency (THz)</text>
<text x="385.5" y="375.4" font-size="12.7" text-anchor="middle" font-family='"Liberation Sans", sans-serif' fill="#111" transform="rotate(-90 385.5 375.4)">Loss (cm<tspan font-size="9" dy="-5">&#8211;1</tspan><tspan dy="5">)</tspan></text>
<path d="M427.8,288.5 h6.9 M444.1,288.5 h6.1" stroke="#f08a91" stroke-width="1.3"/>
<path d="M427.8,301.6 h6.9 M444.1,301.6 h6.1" stroke="#b3aad8" stroke-width="1.3"/>
<circle cx="440.8" cy="315.4" r="5.2" fill="url(#sph)"/>
<text x="456.4" y="293.1" font-size="12.45" text-anchor="start" font-family='"Liberation Sans", sans-serif' fill="#111" >Total loss</text>
<text x="456.4" y="305.9" font-size="12.45" text-anchor="start" font-family='"Liberation Sans", sans-serif' fill="#111" >Material loss</text>
<text x="456.4" y="320.2" font-size="12.45" text-anchor="start" font-family='"Liberation Sans", sans-serif' fill="#111" >Confinement loss</text>
<text x="371.7" y="272.8" font-size="18" font-weight="bold" font-family='"Liberation Sans", sans-serif' fill="#000">d</text>
</svg>
</body></html>
